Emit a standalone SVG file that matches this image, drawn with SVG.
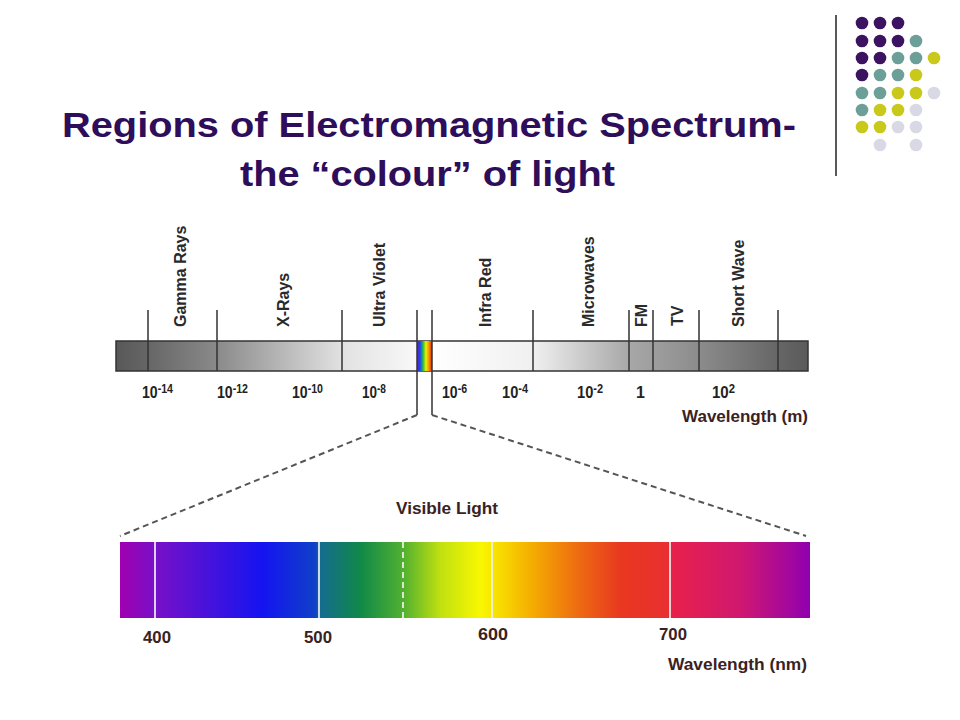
<svg xmlns="http://www.w3.org/2000/svg" width="960" height="720" viewBox="0 0 960 720">
<defs>
<style>
.title{font-family:"Liberation Sans",Arial,sans-serif;font-weight:bold;font-size:35px;fill:#2e0d5a}
.rl{font-family:"Liberation Sans",Arial,sans-serif;font-weight:bold;font-size:16px;fill:#2a2a2a}
.ex{font-family:"Liberation Sans",Arial,sans-serif;font-weight:bold;font-size:16px;fill:#222}
.lb{font-family:"Liberation Sans",Arial,sans-serif;font-weight:bold;font-size:17px;fill:#3a2222}
.tick{stroke:#333;stroke-width:1.5;fill:none}
.dash{stroke:#555;stroke-width:2;stroke-dasharray:6 4;fill:none}
.wl{stroke:#f0f0f0;stroke-width:2;opacity:0.85}
.P{fill:#3c1360}.T{fill:#6d9f99}.Y{fill:#c9c91c}.L{fill:#d9d9e6}
</style>
<linearGradient id="gbar" x1="116" y1="0" x2="808" y2="0" gradientUnits="userSpaceOnUse">
<stop offset="0" stop-color="#585858"/>
<stop offset="0.046" stop-color="#666"/>
<stop offset="0.146" stop-color="#8a8a8a"/>
<stop offset="0.327" stop-color="#e2e2e2"/>
<stop offset="0.435" stop-color="#f8f8f8"/>
<stop offset="0.457" stop-color="#fff"/>
<stop offset="0.603" stop-color="#f0f0f0"/>
<stop offset="0.741" stop-color="#a8a8a8"/>
<stop offset="0.842" stop-color="#8c8c8c"/>
<stop offset="0.957" stop-color="#666"/>
<stop offset="1" stop-color="#5a5a5a"/>
</linearGradient>
<linearGradient id="grain" x1="0" y1="0" x2="1" y2="0">
<stop offset="0" stop-color="#6020c0"/>
<stop offset="0.2" stop-color="#2040ff"/>
<stop offset="0.4" stop-color="#20c040"/>
<stop offset="0.6" stop-color="#f0f000"/>
<stop offset="0.8" stop-color="#f09000"/>
<stop offset="1" stop-color="#e82020"/>
</linearGradient>
<linearGradient id="gvis" x1="120" y1="0" x2="810" y2="0" gradientUnits="userSpaceOnUse">
<stop offset="0" stop-color="#a000b0"/>
<stop offset="0.051" stop-color="#7810c8"/>
<stop offset="0.207" stop-color="#1414f0"/>
<stop offset="0.283" stop-color="#1040c8"/>
<stop offset="0.29" stop-color="#146c90"/>
<stop offset="0.348" stop-color="#108848"/>
<stop offset="0.41" stop-color="#50b030"/>
<stop offset="0.464" stop-color="#c0e010"/>
<stop offset="0.522" stop-color="#f8f800"/>
<stop offset="0.539" stop-color="#f8e800"/>
<stop offset="0.594" stop-color="#f5b000"/>
<stop offset="0.659" stop-color="#ee7010"/>
<stop offset="0.725" stop-color="#e83820"/>
<stop offset="0.794" stop-color="#e83030"/>
<stop offset="0.8" stop-color="#e8204a"/>
<stop offset="0.899" stop-color="#d01870"/>
<stop offset="1" stop-color="#9000b0"/>
</linearGradient>
</defs>
<rect width="960" height="720" fill="#fff"/>

<g id="decor">
<line x1="836" y1="15" x2="836" y2="176" stroke="#222" stroke-width="1.5"/>
<circle class="P" cx="862" cy="23" r="6.3"/><circle class="P" cx="880" cy="23" r="6.3"/><circle class="P" cx="898" cy="23" r="6.3"/>
<circle class="P" cx="862" cy="41" r="6.3"/><circle class="P" cx="880" cy="41" r="6.3"/><circle class="P" cx="898" cy="41" r="6.3"/><circle class="T" cx="916" cy="41" r="6.3"/>
<circle class="P" cx="862" cy="58" r="6.3"/><circle class="P" cx="880" cy="58" r="6.3"/><circle class="T" cx="898" cy="58" r="6.3"/><circle class="T" cx="916" cy="58" r="6.3"/><circle class="Y" cx="934" cy="58" r="6.3"/>
<circle class="P" cx="862" cy="75" r="6.3"/><circle class="T" cx="880" cy="75" r="6.3"/><circle class="T" cx="898" cy="75" r="6.3"/><circle class="Y" cx="916" cy="75" r="6.3"/>
<circle class="T" cx="862" cy="93" r="6.3"/><circle class="T" cx="880" cy="93" r="6.3"/><circle class="Y" cx="898" cy="93" r="6.3"/><circle class="Y" cx="916" cy="93" r="6.3"/><circle class="L" cx="934" cy="93" r="6.3"/>
<circle class="T" cx="862" cy="110" r="6.3"/><circle class="Y" cx="880" cy="110" r="6.3"/><circle class="Y" cx="898" cy="110" r="6.3"/><circle class="L" cx="916" cy="110" r="6.3"/>
<circle class="Y" cx="862" cy="127" r="6.3"/><circle class="Y" cx="880" cy="127" r="6.3"/><circle class="L" cx="898" cy="127" r="6.3"/><circle class="L" cx="916" cy="127" r="6.3"/>
<circle class="L" cx="880" cy="145" r="6.3"/><circle class="L" cx="916" cy="145" r="6.3"/>
</g>

<g id="title">
<text class="title" x="62" y="137" textLength="734" lengthAdjust="spacingAndGlyphs">Regions of Electromagnetic Spectrum-</text>
<text class="title" x="240" y="186" textLength="375" lengthAdjust="spacingAndGlyphs">the “colour” of light</text>
</g>

<g id="em-bar">
<rect x="116" y="341" width="692" height="30" fill="url(#gbar)" stroke="#333" stroke-width="1.5"/>
<rect x="417" y="341" width="15" height="30" fill="url(#grain)"/>
</g>

<g id="connectors">
<path class="tick" d="M148 310V371M217 310V371M342 310V371M533 310V371M629 310V371M653 310V371M699 310V371M778 310V371"/>
<path class="tick" d="M417 310V415M432 310V415"/>
<line class="dash" x1="417" y1="415" x2="120" y2="536"/>
<line class="dash" x1="432" y1="415" x2="806" y2="536"/>
</g>

<g id="region-labels">
<text class="rl" transform="translate(186,327) rotate(-90)">Gamma Rays</text>
<text class="rl" transform="translate(289,327) rotate(-90)">X-Rays</text>
<text class="rl" transform="translate(385,327) rotate(-90)">Ultra Violet</text>
<text class="rl" transform="translate(491,327) rotate(-90)">Infra Red</text>
<text class="rl" transform="translate(594,327) rotate(-90)">Microwaves</text>
<text class="rl" transform="translate(647,327) rotate(-90)">FM</text>
<text class="rl" transform="translate(683,326) rotate(-90)">TV</text>
<text class="rl" transform="translate(744,327) rotate(-90)">Short Wave</text>
</g>

<g id="exponent-labels">
<text class="ex" x="142" y="398" textLength="31" lengthAdjust="spacingAndGlyphs">10<tspan dy="-5" font-size="12">-14</tspan></text>
<text class="ex" x="217" y="398" textLength="31" lengthAdjust="spacingAndGlyphs">10<tspan dy="-5" font-size="12">-12</tspan></text>
<text class="ex" x="292" y="398" textLength="31" lengthAdjust="spacingAndGlyphs">10<tspan dy="-5" font-size="12">-10</tspan></text>
<text class="ex" x="362" y="398" textLength="24" lengthAdjust="spacingAndGlyphs">10<tspan dy="-5" font-size="12">-8</tspan></text>
<text class="ex" x="442" y="398" textLength="25" lengthAdjust="spacingAndGlyphs">10<tspan dy="-5" font-size="12">-6</tspan></text>
<text class="ex" x="502" y="398" textLength="26" lengthAdjust="spacingAndGlyphs">10<tspan dy="-5" font-size="12">-4</tspan></text>
<text class="ex" x="577" y="398" textLength="26" lengthAdjust="spacingAndGlyphs">10<tspan dy="-5" font-size="12">-2</tspan></text>
<text class="ex" x="636" y="398">1</text>
<text class="ex" x="712" y="398" textLength="23" lengthAdjust="spacingAndGlyphs">10<tspan dy="-5" font-size="12">2</tspan></text>
<text class="lb" x="682" y="422" textLength="126" lengthAdjust="spacingAndGlyphs">Wavelength (m)</text>
</g>

<g id="visible-bar">
<text class="lb" x="396" y="514" textLength="102" lengthAdjust="spacingAndGlyphs">Visible Light</text>
<rect x="120" y="542" width="690" height="76" fill="url(#gvis)"/>
<line class="wl" x1="155" y1="542" x2="155" y2="618"/>
<line class="wl" x1="319" y1="542" x2="319" y2="618"/>
<line class="wl" x1="403" y1="542" x2="403" y2="618" stroke-dasharray="6 4"/>
<line class="wl" x1="492" y1="542" x2="492" y2="618"/>
<line class="wl" x1="670" y1="542" x2="670" y2="618"/>
<text class="lb" x="143" y="643" textLength="28" lengthAdjust="spacingAndGlyphs">400</text>
<text class="lb" x="304" y="643" textLength="28" lengthAdjust="spacingAndGlyphs">500</text>
<text class="lb" x="478" y="640" textLength="30" lengthAdjust="spacingAndGlyphs">600</text>
<text class="lb" x="659" y="640" textLength="28" lengthAdjust="spacingAndGlyphs">700</text>
<text class="lb" x="668" y="670" textLength="139" lengthAdjust="spacingAndGlyphs">Wavelength (nm)</text>
</g>
</svg>
